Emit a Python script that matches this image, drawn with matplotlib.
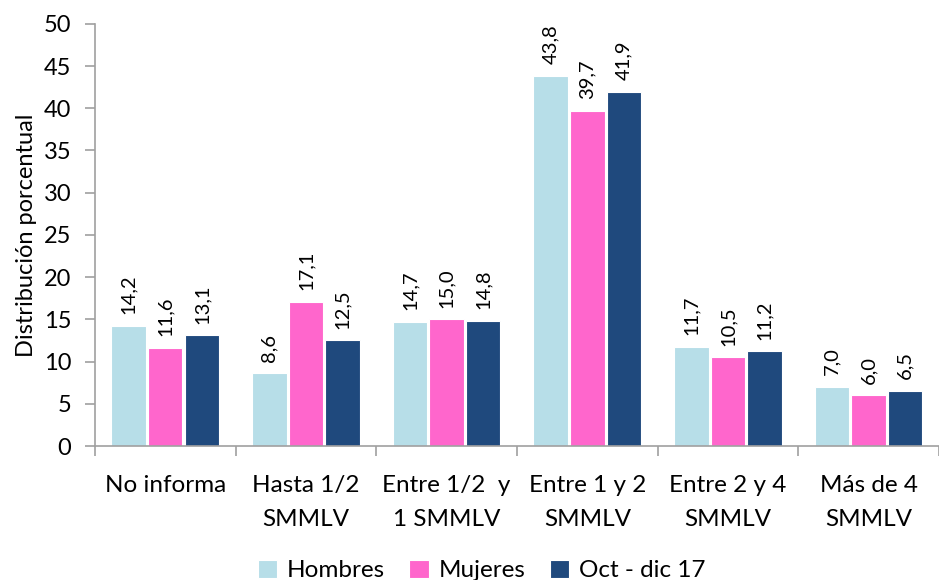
import numpy as np
import matplotlib
matplotlib.use("Agg")
import matplotlib.pyplot as plt

plt.rcParams['font.family'] = ['Lato', 'DejaVu Sans']

categories = ["No informa", "Hasta 1/2\nSMMLV", "Entre 1/2  y\n1 SMMLV",
              "Entre 1 y 2\nSMMLV", "Entre 2 y 4\nSMMLV", "Más de 4\nSMMLV"]
hombres = [14.2, 8.6, 14.7, 43.8, 11.7, 7.0]
mujeres = [11.6, 17.1, 15.0, 39.7, 10.5, 6.0]
total = [13.1, 12.5, 14.8, 41.9, 11.2, 6.5]
series_names = ["Hombres", "Mujeres", "Oct - dic 17"]
colors = ["#b7dee8", "#ff66cc", "#1f497d"]

fig = plt.figure(figsize=(9.39, 5.8), dpi=100)
ax = fig.add_axes([0.101, 0.231, 0.899, 0.728])

x = np.arange(len(categories))
width = 0.245
offsets = [-0.26, 0.0, 0.26]
for vals, off, c, name in zip([hombres, mujeres, total], offsets, colors, series_names):
    bars = ax.bar(x + off, vals, width, color=c, edgecolor="white", linewidth=0.8, label=name)
    for b, v in zip(bars, vals):
        ax.text(b.get_x() + b.get_width() / 2, v + 1.4, f"{v:.1f}".replace(".", ","),
                rotation=90, ha="center", va="bottom", fontsize=14.5)

ax.set_ylim(0, 50)
ax.set_xlim(-0.5, 5.465)
ax.set_yticks(range(0, 51, 5))
ax.set_xticks(x)
ax.set_xticklabels(categories, fontsize=17.5, linespacing=1.75)
ax.set_xticks(np.arange(-0.5, 6, 1), minor=True)
ax.tick_params(axis="x", which="major", length=0, pad=21)
ax.tick_params(axis="x", which="minor", length=7, color="#a0a0a0", width=1.2)
ax.tick_params(axis="y", labelsize=17, length=7, color="#a0a0a0", width=1.2, pad=10)
ax.set_ylabel("Distribución porcentual", fontsize=17, labelpad=5)

for s in ["top", "right"]:
    ax.spines[s].set_visible(False)
for s in ["left", "bottom"]:
    ax.spines[s].set_color("#a0a0a0")
    ax.spines[s].set_linewidth(1.2)

fig.legend(loc="lower center", bbox_to_anchor=(0.513, -0.04), ncol=3, frameon=False,
           fontsize=17.5, handlelength=0.8, handleheight=0.8, handletextpad=0.4, columnspacing=1.0)

fig.savefig("out.png", dpi=100)
